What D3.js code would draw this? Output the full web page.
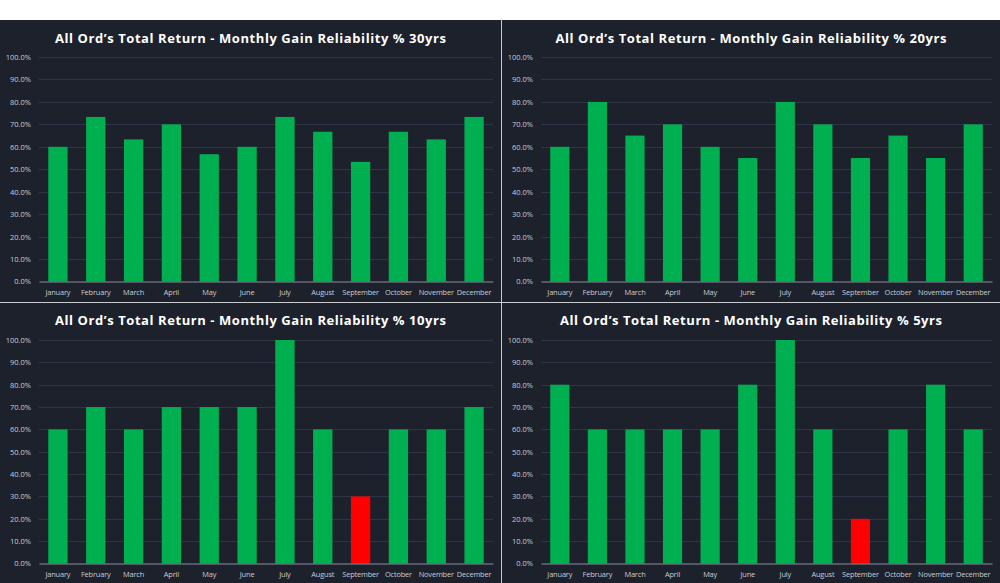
<!DOCTYPE html>
<html>
<head>
<meta charset="utf-8">
<script src="https://cdn.jsdelivr.net/npm/d3@7"></script>
<style>
  body { margin: 0; background: #ffffff; }
  svg { display: block; }
</style>
</head>
<body>
<div id="vis"></div>
<script>
const FRAME_WIDTH = 1000;
const FRAME_HEIGHT = 583;

// data
const MONTHS = ["January", "February", "March", "April", "May", "June",
                "July", "August", "September", "October", "November", "December"];
const TITLES = ["All Ord\u2019s Total Return - Monthly Gain Reliability % 30yrs",
                "All Ord\u2019s Total Return - Monthly Gain Reliability % 20yrs",
                "All Ord\u2019s Total Return - Monthly Gain Reliability % 10yrs",
                "All Ord\u2019s Total Return - Monthly Gain Reliability % 5yrs"];
const GAIN_30YRS = [60, 73.3, 63.3, 70, 56.7, 60, 73.3, 66.7, 53.3, 66.7, 63.3, 73.3];
const GAIN_20YRS = [60, 80, 65, 70, 60, 55, 80, 70, 55, 65, 55, 70];
const GAIN_10YRS = [60, 70, 60, 70, 70, 70, 100, 60, 30, 60, 60, 70];
const GAIN_5YRS = [80, 60, 60, 60, 60, 80, 100, 60, 20, 60, 80, 60];
const Y_TICKS = [0, 10, 20, 30, 40, 50, 60, 70, 80, 90, 100];

const SERIES = [GAIN_30YRS, GAIN_20YRS, GAIN_10YRS, GAIN_5YRS];

// panel layout
const PANELS = [
  {x: 0, y: 20, w: 501},
  {x: 502, y: 20, w: 498},
  {x: 0, y: 303, w: 501},
  {x: 502, y: 303, w: 498}
];

const BG = "#1c212c";

const svg = d3.select("#vis")
  .append("svg")
    .attr("width", FRAME_WIDTH)
    .attr("height", FRAME_HEIGHT);

svg.append("rect")
  .attr("x", 0).attr("y", 20)
  .attr("width", FRAME_WIDTH).attr("height", FRAME_HEIGHT - 20)
  .attr("fill", BG);

function drawPanel(i) {
  const p = PANELS[i];
  const data = SERIES[i];
  const left = 39, right = p.w - 8;
  const top = 37, bottom = i < 2 ? 261.5 : 260.5;

  const g = svg.append("g")
    .attr("transform", "translate(" + p.x + "," + p.y + ")");

  const X_SCALE = d3.scaleBand()
    .domain(MONTHS)
    .range([left, right])
    .paddingInner(0.49)
    .paddingOuter(0.245);

  const Y_SCALE = d3.scaleLinear()
    .domain([0, 100])
    .range([bottom, top]);

  // gridlines
  g.append("g")
    .selectAll("line")
    .data(Y_TICKS.slice(1))
    .enter()
    .append("line")
      .attr("x1", left)
      .attr("x2", right)
      .attr("y1", d => Math.round(Y_SCALE(d)) + 0.5)
      .attr("y2", d => Math.round(Y_SCALE(d)) + 0.5)
      .attr("stroke", "#2e3546")
      .attr("stroke-width", 1);

  // bars
  g.selectAll("rect.bar")
    .data(data)
    .enter()
    .append("rect")
      .attr("class", "bar")
      .attr("x", (d, j) => X_SCALE(MONTHS[j]))
      .attr("y", d => Y_SCALE(d))
      .attr("width", X_SCALE.bandwidth())
      .attr("height", d => Y_SCALE(0) - Y_SCALE(d))
      .attr("fill", d => d < 50 ? "#ff0000" : "#00b050");

  // baseline / x axis
  const xAxis = g.append("g")
    .attr("transform", "translate(0," + Y_SCALE(0) + ")")
    .call(d3.axisBottom(X_SCALE).tickSize(0).tickPadding(8));
  xAxis.select(".domain").attr("stroke", "#8a909c").attr("stroke-width", 1.2);
  xAxis.selectAll("text")
    .attr("fill", "#c9ccd2")
    .attr("font-size", "7.4px")
    .attr("letter-spacing", "-0.15px")
    .attr("font-family", "'Open Sans', sans-serif");

  // y axis
  const yAxis = g.append("g")
    .attr("transform", "translate(" + (left - 8) + ",0)")
    .call(d3.axisLeft(Y_SCALE).tickValues(Y_TICKS).tickSize(0).tickPadding(0)
      .tickFormat(d => d.toFixed(1) + "%"));
  yAxis.select(".domain").remove();
  yAxis.selectAll("text")
    .attr("fill", "#c9ccd2")
    .attr("font-size", "7.5px")
    .attr("font-family", "'Open Sans', sans-serif");

  // title
  g.append("text")
    .attr("x", p.w / 2)
    .attr("y", i < 2 ? 23 : 22)
    .attr("text-anchor", "middle")
    .attr("fill", "#ffffff")
    .attr("font-family", "'Open Sans', sans-serif")
    .attr("font-weight", "bold")
    .attr("font-size", "13px")
    .attr("textLength", i === 3 ? 382 : 391)
    .attr("lengthAdjust", "spacing")
    .text(TITLES[i]);
}

[0, 1, 2, 3].forEach(drawPanel);

// separators
svg.append("line")
  .attr("x1", 501.5).attr("x2", 501.5)
  .attr("y1", 20).attr("y2", FRAME_HEIGHT)
  .attr("stroke", "#c8cbd0").attr("stroke-width", 1);
svg.append("line")
  .attr("x1", 0).attr("x2", FRAME_WIDTH)
  .attr("y1", 302.5).attr("y2", 302.5)
  .attr("stroke", "#c8cbd0").attr("stroke-width", 1);
</script>
</body>
</html>
